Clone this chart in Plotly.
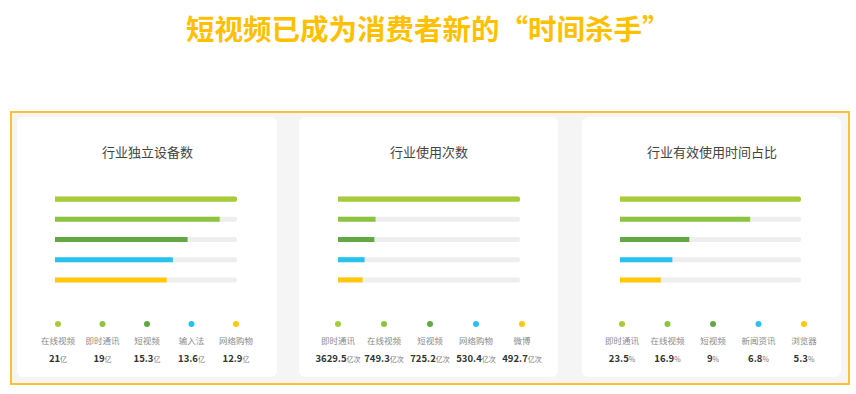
import plotly.graph_objects as go

W, H = 856, 394

# ---------------- data ----------------
main_title = "短视频已成为消费者新的“时间杀手”"
card_titles = ["行业独立设备数", "行业使用次数", "行业有效使用时间占比"]

cats_devices = ["在线视频", "即时通讯", "短视频", "输入法", "网络购物"]
vals_devices = [21, 19, 15.3, 13.6, 12.9]
unit_devices = "亿"

cats_usage = ["即时通讯", "在线视频", "短视频", "网络购物", "微博"]
vals_usage = [3629.5, 749.3, 725.2, 530.4, 492.7]
unit_usage = "亿次"

cats_time = ["即时通讯", "在线视频", "短视频", "新闻资讯", "浏览器"]
vals_time = [23.5, 16.9, 9, 6.8, 5.3]
unit_time = "%"

row_colors = ["#A6CC37", "#8CC43F", "#62A843", "#27C3EE", "#FFC80A"]

panels = [
    (cats_devices, vals_devices, unit_devices),
    (cats_usage, vals_usage, unit_usage),
    (cats_time, vals_time, unit_time),
]

# ---------------- layout geometry (pixels) ----------------
cards_px = [(17, 117, 277, 377), (299, 117, 558, 377), (582, 117, 841, 377)]
bar_x_px = [(55, 237), (338, 520), (620, 801)]
dot_x_px = [(58, 236), (338, 522), (622, 804)]
bar_y_px = (189, 290)
leg_y_px = (310, 370)
DOT_Y, LABEL_Y, VALUE_Y = 324, 342, 360

FONT = "Noto Sans CJK SC"


def px_x(x):
    return x / W


def px_y(y):
    return 1 - y / H


def rounded_path(x0, y0, x1, y1, r):
    pts = [
        ("M", [(x0 + r, y0)]),
        ("L", [(x1 - r, y0)]),
        ("Q", [(x1, y0), (x1, y0 + r)]),
        ("L", [(x1, y1 - r)]),
        ("Q", [(x1, y1), (x1 - r, y1)]),
        ("L", [(x0 + r, y1)]),
        ("Q", [(x0, y1), (x0, y1 - r)]),
        ("L", [(x0, y0 + r)]),
        ("Q", [(x0, y0), (x0 + r, y0)]),
    ]
    s = ""
    for cmd, ps in pts:
        s += cmd + " " + " ".join(f"{px_x(a):.5f},{px_y(b):.5f}" for a, b in ps) + " "
    return s + "Z"


fig = go.Figure()
layout = dict(
    width=W, height=H,
    margin=dict(l=0, r=0, t=0, b=0),
    paper_bgcolor="white", plot_bgcolor="rgba(0,0,0,0)",
    showlegend=False, barmode="overlay",
    font=dict(family=FONT),
    shapes=[], annotations=[],
)

# outer frame
layout["shapes"].append(dict(
    type="rect", xref="paper", yref="paper",
    x0=px_x(11), x1=px_x(849), y0=px_y(384), y1=px_y(112),
    line=dict(color="#F8C232", width=2), fillcolor="#F5F5F5", layer="below"))

for k, (cats, vals, unit) in enumerate(panels):
    cx0, cy0, cx1, cy1 = cards_px[k]
    layout["shapes"].append(dict(
        type="path", xref="paper", yref="paper",
        path=rounded_path(cx0, cy0, cx1, cy1, 7),
        line=dict(width=0), fillcolor="white", layer="below"))
    layout["annotations"].append(dict(
        text=card_titles[k], xref="paper", yref="paper",
        x=px_x((cx0 + cx1) / 2), y=px_y(151), showarrow=False,
        xanchor="center", yanchor="middle",
        font=dict(size=13, color="#444444", family=FONT)))

    bi = k + 1
    li = k + 4
    bx = "x" if bi == 1 else f"x{bi}"
    by = "y" if bi == 1 else f"y{bi}"
    lx, ly = f"x{li}", f"y{li}"
    idx = list(range(len(vals)))
    vmax = max(vals)

    # bar axes
    layout["xaxis" if bi == 1 else f"xaxis{bi}"] = dict(
        domain=[px_x(bar_x_px[k][0]), px_x(bar_x_px[k][1])],
        range=[0, vmax], visible=False, anchor=by, fixedrange=True)
    layout["yaxis" if bi == 1 else f"yaxis{bi}"] = dict(
        domain=[px_y(bar_y_px[1]), px_y(bar_y_px[0])],
        range=[len(vals) - 0.5, -0.5], visible=False, anchor=bx, fixedrange=True)

    # legend axes
    layout[f"xaxis{li}"] = dict(
        domain=[px_x(dot_x_px[k][0]), px_x(dot_x_px[k][1])],
        range=[0, len(vals) - 1], visible=False, anchor=ly, fixedrange=True)
    layout[f"yaxis{li}"] = dict(
        domain=[px_y(leg_y_px[1]), px_y(leg_y_px[0])],
        range=[leg_y_px[1], leg_y_px[0]], visible=False, anchor=lx, fixedrange=True)

    # track
    fig.add_trace(go.Bar(
        x=[vmax] * len(vals), y=idx, orientation="h", width=0.25,
        marker=dict(color="#EEEEEE", cornerradius=3, line=dict(width=0)),
        xaxis=bx, yaxis=by, hoverinfo="skip"))
    # value bar
    fig.add_trace(go.Bar(
        x=vals, y=idx, orientation="h", width=0.25,
        marker=dict(color=row_colors, cornerradius=3, line=dict(width=0)),
        xaxis=bx, yaxis=by, hovertext=cats, hoverinfo="text+x"))
    # dots
    fig.add_trace(go.Scatter(
        x=idx, y=[DOT_Y] * len(vals), mode="markers",
        marker=dict(size=6, color=row_colors),
        xaxis=lx, yaxis=ly, cliponaxis=False, hoverinfo="skip"))
    # category labels
    fig.add_trace(go.Scatter(
        x=idx, y=[LABEL_Y] * len(vals), mode="text", text=cats,
        textposition="middle center",
        textfont=dict(size=8.5, color="#8A8A8A", family=FONT),
        xaxis=lx, yaxis=ly, cliponaxis=False, hoverinfo="skip"))
    # values
    vtexts = [f"<b>{v:g}</b><span style='font-size:7px;color:#777777'>{unit}</span>" for v in vals]
    fig.add_trace(go.Scatter(
        x=idx, y=[VALUE_Y] * len(vals), mode="text", text=vtexts,
        textposition="middle center",
        textfont=dict(size=9.5, color="#333333", family=FONT),
        xaxis=lx, yaxis=ly, cliponaxis=False, hoverinfo="skip"))

layout["annotations"].append(dict(
    text=f"<b>{main_title}</b>", xref="paper", yref="paper",
    x=px_x(428), y=px_y(27), showarrow=False, xanchor="center", yanchor="middle",
    font=dict(size=28.5, color="#FFC000", family=FONT)))

fig.update_layout(**layout)
fig.write_html("out.html")
